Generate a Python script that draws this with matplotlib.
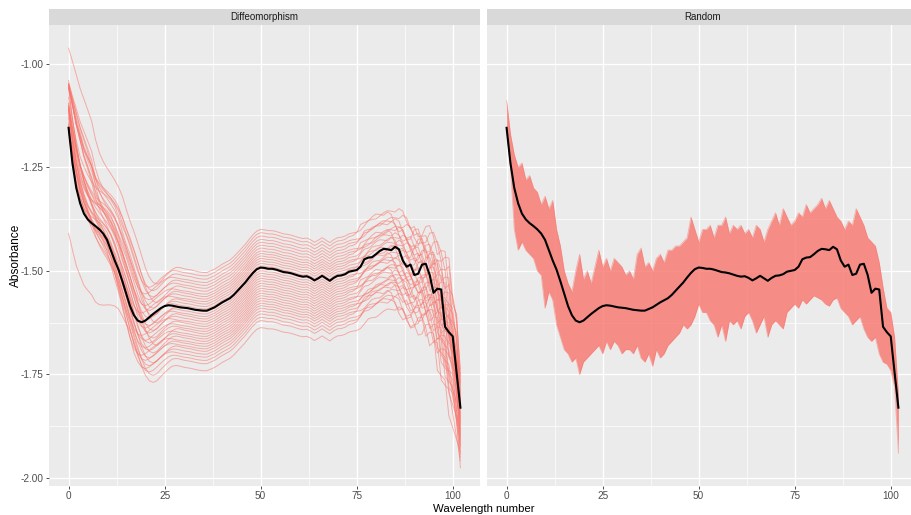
import numpy as np
import matplotlib
matplotlib.use("Agg")
import matplotlib.pyplot as plt

plt.rcParams['font.family'] = ['Liberation Sans', 'DejaVu Sans']

# ---------------- data ----------------
wavelength = np.arange(103)
original = [
    -1.155, -1.240, -1.300, -1.337, -1.362, -1.376, -1.385, -1.392, -1.400, -1.410,
    -1.425, -1.450, -1.475, -1.497, -1.525, -1.555, -1.585, -1.607, -1.620, -1.624,
    -1.620, -1.612, -1.604, -1.597, -1.590, -1.585, -1.583, -1.584, -1.586, -1.588,
    -1.589, -1.590, -1.592, -1.594, -1.595, -1.596, -1.596, -1.592, -1.588, -1.582,
    -1.576, -1.571, -1.566, -1.558, -1.548, -1.538, -1.528, -1.516, -1.505, -1.496,
    -1.492, -1.493, -1.495, -1.495, -1.497, -1.500, -1.503, -1.504, -1.506, -1.509,
    -1.512, -1.514, -1.513, -1.517, -1.523, -1.518, -1.512, -1.518, -1.524, -1.517,
    -1.512, -1.511, -1.508, -1.502, -1.500, -1.498, -1.490, -1.472, -1.468, -1.467,
    -1.460, -1.452, -1.447, -1.448, -1.450, -1.442, -1.448, -1.475, -1.490, -1.485,
    -1.510, -1.507, -1.485, -1.483, -1.510, -1.553, -1.543, -1.545, -1.635, -1.648,
    -1.658, -1.745, -1.830]

# Diffeomorphism copies: vertical offset, extra offset at the start,
# horizontal warp (left part, right part) for each augmented spectrum
diff_offset = [0.092, 0.084, 0.076, 0.068, 0.061, 0.054, 0.047, 0.040, 0.034, 0.028,
               0.022, 0.016, 0.010, 0.004, -0.002, -0.008, -0.014, -0.020, -0.026, -0.032,
               -0.038, -0.044, -0.050, -0.056, -0.062, -0.068, -0.074, -0.080, -0.086, -0.092,
               -0.098, -0.105, -0.112, -0.120, -0.128, -0.145]
diff_start = [0.10, -0.01, 0.02, -0.03, 0.04, 0.00, 0.06, 0.01, 0.08, 0.03,
              -0.01, 0.09, 0.05, 0.02, 0.10, 0.06, 0.01, 0.12, 0.07, 0.04,
              0.14, 0.09, 0.05, 0.16, 0.11, 0.07, 0.18, 0.13, 0.09, 0.19,
              0.14, 0.10, 0.21, 0.15, 0.12, -0.11]
diff_shift_left = [4, 2, 3, 1, 3, 2, 4, 1, 3, 2, 0, 3, 2, 1, 4, 2, 1, 3,
                   2, 0, 3, 1, 2, 4, 1, 2, 3, 0, 2, 1, 3, 2, 1, 2, 3, 3]
diff_shift_right = [1, -2, 2, 0, -1, 3, 1, -2, 0, 2, -1, 1, 3, -1, 0, 2, -2, 1,
                    0, -1, 2, 1, -2, 0, 3, -1, 1, 2, -1, 0, 2, -2, 1, 0, -1, 1]
start_weight = [1.0, 0.97, 0.93, 0.88, 0.82, 0.76, 0.69, 0.62, 0.55, 0.48,
                0.41, 0.34, 0.27, 0.20, 0.13, 0.07, 0.03] + [0.0] * 86

# Random-noise copies: envelope of the band
random_upper = [
    -1.09, -1.17, -1.22, -1.25, -1.24, -1.28, -1.27, -1.30, -1.31, -1.34,
    -1.32, -1.35, -1.33, -1.40, -1.44, -1.50, -1.53, -1.55, -1.50, -1.46,
    -1.52, -1.50, -1.53, -1.49, -1.45, -1.49, -1.47, -1.50, -1.47, -1.48,
    -1.49, -1.51, -1.50, -1.52, -1.46, -1.445, -1.49, -1.48, -1.50, -1.47,
    -1.46, -1.48, -1.45, -1.45, -1.44, -1.44, -1.43, -1.42, -1.37, -1.40,
    -1.43, -1.40, -1.40, -1.39, -1.42, -1.39, -1.39, -1.37, -1.41, -1.39,
    -1.40, -1.39, -1.41, -1.40, -1.42, -1.39, -1.40, -1.43, -1.40, -1.38,
    -1.36, -1.39, -1.35, -1.37, -1.39, -1.38, -1.36, -1.37, -1.34, -1.36,
    -1.35, -1.34, -1.325, -1.35, -1.33, -1.35, -1.37, -1.38, -1.40, -1.38,
    -1.39, -1.35, -1.37, -1.39, -1.42, -1.43, -1.44, -1.48, -1.54, -1.59,
    -1.60, -1.66, -1.80]
random_lower = [
    -1.16, -1.25, -1.40, -1.45, -1.43, -1.45, -1.46, -1.47, -1.50, -1.51,
    -1.59, -1.55, -1.57, -1.63, -1.66, -1.69, -1.70, -1.72, -1.71, -1.75,
    -1.72, -1.71, -1.70, -1.69, -1.68, -1.70, -1.67, -1.69, -1.67, -1.68,
    -1.70, -1.69, -1.69, -1.70, -1.68, -1.71, -1.72, -1.70, -1.73, -1.69,
    -1.71, -1.70, -1.68, -1.67, -1.66, -1.65, -1.63, -1.64, -1.63, -1.61,
    -1.58, -1.60, -1.60, -1.62, -1.63, -1.66, -1.63, -1.67, -1.62, -1.63,
    -1.62, -1.64, -1.61, -1.60, -1.62, -1.65, -1.63, -1.61, -1.66, -1.63,
    -1.62, -1.63, -1.64, -1.60, -1.59, -1.58, -1.59, -1.57, -1.58, -1.57,
    -1.56, -1.565, -1.57, -1.58, -1.585, -1.57, -1.565, -1.59, -1.60, -1.61,
    -1.63, -1.62, -1.61, -1.64, -1.66, -1.67, -1.66, -1.70, -1.72, -1.725,
    -1.74, -1.78, -1.94]

panels = ["Diffeomorphism", "Random"]
x_ticks = [0, 25, 50, 75, 100]
x_minor = [12.5, 37.5, 62.5, 87.5]
y_ticks = [-2.00, -1.75, -1.50, -1.25, -1.00]
y_minor = [-1.875, -1.625, -1.375, -1.125]
x_label = "Wavelength number"
y_label = "Absorbance"

# ---------------- figure ----------------
W, H = 911, 515
fig = plt.figure(figsize=(W / 100, H / 100), dpi=100)


def px_axes(l, t, r, b):
    return fig.add_axes([l / W, 1 - b / H, (r - l) / W, (b - t) / H])


RED = "#F8766D"
x = wavelength.astype(float)
orig = np.array(original)


def style(ax, show_y):
    ax.set_facecolor("#EBEBEB")
    for s in ax.spines.values():
        s.set_visible(False)
    ax.set_xlim(-5.1, 107.1)
    ax.set_ylim(-2.019, -0.907)
    ax.set_xticks(x_ticks)
    ax.set_xticks(x_minor, minor=True)
    ax.set_yticks(y_ticks)
    ax.set_yticks(y_minor, minor=True)
    ax.grid(which="major", color="white", lw=1.0)
    ax.grid(which="minor", color="white", lw=0.5)
    ax.set_axisbelow(True)
    ax.tick_params(which="major", axis="x", length=2.2, width=0.6, color="#333333",
                   labelsize=7.2, labelcolor="#4D4D4D", pad=1.2)
    ax.tick_params(which="minor", length=0)
    if show_y:
        ax.set_yticklabels([f"{v:.2f}" for v in y_ticks])
        ax.tick_params(which="major", axis="y", length=2.2, width=0.6, color="#333333",
                       labelsize=7.2, labelcolor="#4D4D4D", pad=1.5)
    else:
        ax.tick_params(which="major", axis="y", length=0, labelleft=False)


ax1 = px_axes(49, 25, 480, 486)
ax2 = px_axes(487, 25, 918, 486)
style(ax1, True)
style(ax2, False)

# Diffeomorphism panel
w_left = np.clip(np.minimum(x / 6.0, (35 - x) / 12.0), 0, 1)
w_right = np.clip(np.minimum((x - 72) / 8.0, (102 - x) / 3.0), 0, 1)
sw = np.array(start_weight)
for b, a, sl, sr in zip(diff_offset, diff_start, diff_shift_left, diff_shift_right):
    pos = x - sl * w_left - sr * w_right
    yv = np.interp(pos, x, orig) + b + a * sw
    ax1.plot(x, yv, color=RED, lw=0.7, alpha=0.55, zorder=2)
ax1.plot(x, orig, color="black", lw=1.5, zorder=3)

# Random panel
ax2.fill_between(x, random_lower, random_upper, color=RED, alpha=0.8, lw=0, zorder=2)
ax2.plot(x, random_upper, color=RED, lw=0.6, alpha=0.5, zorder=2)
ax2.plot(x, random_lower, color=RED, lw=0.6, alpha=0.5, zorder=2)
ax2.plot(x, orig, color="black", lw=1.5, zorder=3)

# strips
for (l, r), name in zip([(49, 480), (487, 918)], panels):
    sax = px_axes(l, 9, r, 25)
    sax.set_facecolor("#D9D9D9")
    for s in sax.spines.values():
        s.set_visible(False)
    sax.set_xticks([])
    sax.set_yticks([])
    sax.text(0.5, 0.5, name, ha="center", va="center", fontsize=7.0,
             color="#1A1A1A", transform=sax.transAxes)

fig.text(483.5 / W, 0.5 / H, x_label, ha="center", va="bottom", fontsize=8.2, color="black")
fig.text(16.0 / W, 1 - 255.5 / H, y_label, ha="center", va="center", rotation=90,
         fontsize=8.6, color="black")

fig.savefig("out.png", dpi=100)
